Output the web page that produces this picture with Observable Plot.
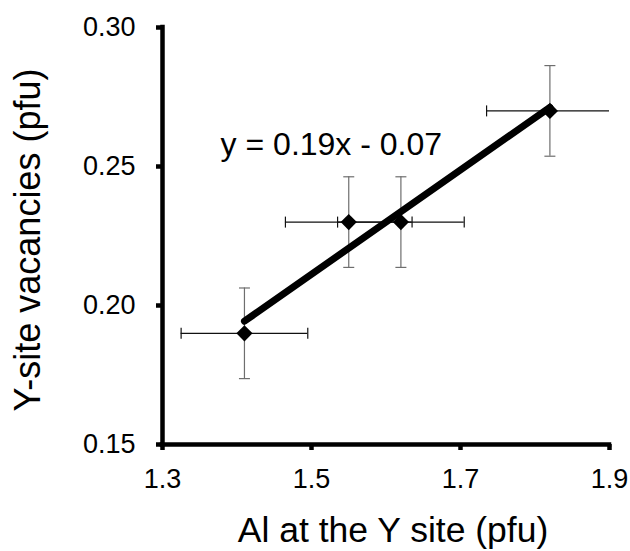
<!DOCTYPE html>
<html>
<head>
<meta charset="utf-8">
<script src="https://cdn.jsdelivr.net/npm/d3@7"></script>
<script src="https://cdn.jsdelivr.net/npm/@observablehq/plot@0.6"></script>
<style>
  html, body { margin: 0; padding: 0; background: #fff; }
  svg { font-family: "Liberation Sans", Arial, sans-serif; }
</style>
</head>
<body>
<div id="chart"></div>
<script>
// Data
const alYSite = [1.41, 1.55, 1.62, 1.82];          // Al at the Y site (pfu)
const yVacancies = [0.19, 0.23, 0.23, 0.27];       // Y-site vacancies (pfu)
const alError = [0.085, 0.085, 0.085, 0.085];      // horizontal error (±)
const vacError = [0.0163, 0.0163, 0.0163, 0.0163]; // vertical error (±)

const xTicks = [1.3, 1.5, 1.7, 1.9];
const yTicks = [0.15, 0.20, 0.25, 0.30];
const xDomain = [1.3, 1.9];
const yDomain = [0.15, 0.30];
const xTitle = "Al at the Y site (pfu)";
const yTitle = "Y-site vacancies (pfu)";
const equationAnchor = [{x: 1.378, y: 0.2577}];

const rows = alYSite.map((x, i) => ({
  x, y: yVacancies[i],
  x1: x - alError[i], x2: x + alError[i],
  y1: yVacancies[i] - vacError[i], y2: yVacancies[i] + vacError[i]
}));

// least-squares fit for the equation label
const mx = d3.mean(alYSite), my = d3.mean(yVacancies);
const slope = d3.sum(alYSite, (x, i) => (x - mx) * (yVacancies[i] - my)) / d3.sum(alYSite, x => (x - mx) ** 2);
const intercept = my - slope * mx;
const eqText = `y = ${slope.toFixed(2)}x ${intercept < 0 ? "-" : "+"} ${Math.abs(intercept).toFixed(2)}`;

// custom cap symbols
const hCap = {draw(ctx, size) { const r = Math.sqrt(size / Math.PI); ctx.moveTo(-r, 0); ctx.lineTo(r, 0); }};
const vCap = {draw(ctx, size) { const r = Math.sqrt(size / Math.PI); ctx.moveTo(0, -r); ctx.lineTo(0, r); }};

const chart = Plot.plot({
  width: 630,
  height: 551,
  marginLeft: 162,
  marginRight: 21,
  marginTop: 27,
  marginBottom: 107,
  style: {fontFamily: "'Liberation Sans', Arial, sans-serif", background: "#fff", overflow: "visible"},
  x: {domain: xDomain},
  y: {domain: yDomain},
  marks: [
    // axis lines
    Plot.ruleX([xDomain[0]], {stroke: "#000", strokeWidth: 4.5, strokeLinecap: "square"}),
    Plot.ruleY([yDomain[0]], {stroke: "#000", strokeWidth: 4.5, strokeLinecap: "square"}),
    Plot.axisX({ticks: xTicks, tickFormat: d3.format(".1f"), tickSize: 6, tickPadding: 18, strokeWidth: 4.5, fontSize: 27, label: null, color: "#000"}),
    Plot.axisY({ticks: yTicks, tickFormat: d3.format(".2f"), tickSize: 6, tickPadding: 21, strokeWidth: 4.5, fontSize: 27, label: null, color: "#000"}),
    // vertical error bars
    Plot.ruleX(rows, {x: "x", y1: "y1", y2: "y2", stroke: "#6e6e6e", strokeWidth: 1.2}),
    Plot.dot(rows, {x: "x", y: "y1", symbol: hCap, r: 5.5, stroke: "#6e6e6e", strokeWidth: 1.2, fill: "none"}),
    Plot.dot(rows, {x: "x", y: "y2", symbol: hCap, r: 5.5, stroke: "#6e6e6e", strokeWidth: 1.2, fill: "none"}),
    // horizontal error bars
    Plot.ruleY(rows, {y: "y", x1: "x1", x2: "x2", stroke: "#111", strokeWidth: 1.2, clip: true}),
    Plot.dot(rows, {x: "x1", y: "y", symbol: vCap, r: 5.5, stroke: "#111", strokeWidth: 1.2, fill: "none", clip: true}),
    Plot.dot(rows, {x: "x2", y: "y", symbol: vCap, r: 5.5, stroke: "#111", strokeWidth: 1.2, fill: "none", clip: true}),
    // markers
    Plot.dot(rows, {x: "x", y: "y", symbol: "diamond2", r: 7.3, fill: "#000", stroke: "none"}),
    // trend line
    Plot.linearRegressionY(rows, {x: "x", y: "y", ci: 0, stroke: "#000", strokeWidth: 7, strokeLinecap: "round"}),
    // equation
    Plot.text(equationAnchor, {x: "x", y: "y", text: () => eqText, textAnchor: "start", fontSize: 32, fill: "#000"}),
    // axis titles
    Plot.text([xTitle], {frameAnchor: "bottom", textAnchor: "middle", dx: 7, dy: 97, fontSize: 35.5, fill: "#000"}),
    Plot.text([yTitle], {frameAnchor: "left", textAnchor: "middle", lineAnchor: "middle", rotate: -90, dx: -134, dy: 4, fontSize: 36, fill: "#000"})
  ]
});
document.getElementById("chart").appendChild(chart);
</script>
</body>
</html>
